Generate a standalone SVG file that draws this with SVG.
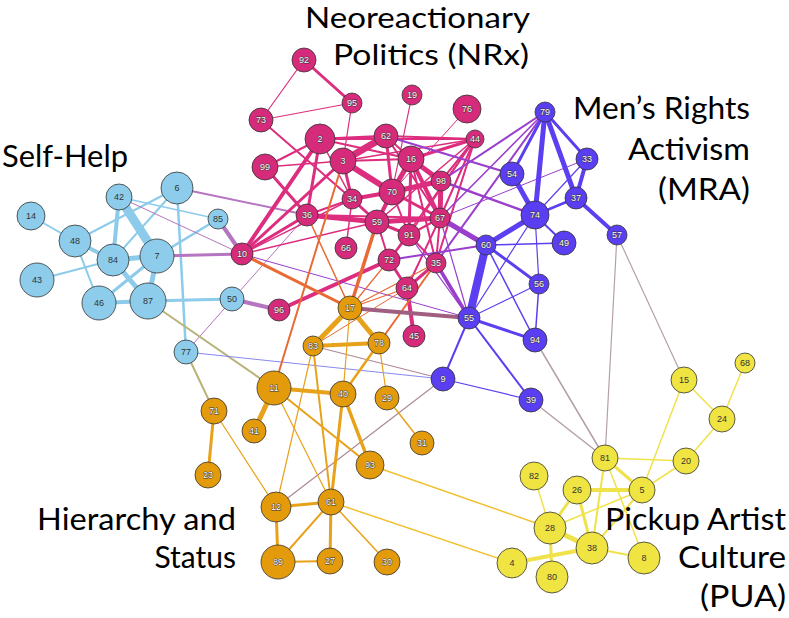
<svg xmlns="http://www.w3.org/2000/svg" width="789" height="618" viewBox="0 0 789 618">
<style>
.e line{stroke-linecap:round;fill:none}
.sh{stroke:#8ccbea}.nr{stroke:#dc2d7e}.hs{stroke:#e8a21a}.mr{stroke:#5c3ff0}.pu{stroke:#f0e24a}
.nm{stroke:#9a3fcc}.ns{stroke:#b575c0}.sm{stroke:#8888f0}.nh{stroke:#e86a35}.hm{stroke:#b08898}
.mp{stroke:#b5a0aa}.shh{stroke:#b8b47a}.hp{stroke:#f0c030}.km{stroke:#a05f80}
circle{stroke:#333;stroke-width:0.8}
.csh{fill:#8dcdeb}.cnr{fill:#d62a7a}.chs{fill:#e39b0b}.cmr{fill:#5a3ef2}.cpu{fill:#f0e443}
.n text{font-family:"Liberation Sans",Arial,sans-serif;font-size:9px;text-anchor:middle;dominant-baseline:central}
.dk text{fill:#333}
.lt text{fill:#fff;stroke:#333;stroke-width:0.9;paint-order:stroke}
.h{font-family:Lato,"Liberation Sans",sans-serif;font-size:30px;fill:#000}
.h2{font-size:28px}
</style>
<g id="connectors" class="e">
<line class="sh" x1="31" y1="216" x2="75" y2="241" stroke-width="2"/>
<line class="sh" x1="75" y1="241" x2="177" y2="188" stroke-width="2"/>
<line class="sh" x1="75" y1="241" x2="113" y2="260" stroke-width="4"/>
<line class="sh" x1="75" y1="241" x2="99" y2="303" stroke-width="2"/>
<line class="sh" x1="119" y1="197" x2="113" y2="260" stroke-width="4"/>
<line class="sh" x1="119" y1="197" x2="157" y2="256" stroke-width="9"/>
<line class="sh" x1="119" y1="197" x2="218" y2="219" stroke-width="1.5"/>
<line class="sh" x1="177" y1="188" x2="113" y2="260" stroke-width="2"/>
<line class="sh" x1="177" y1="188" x2="186" y2="352" stroke-width="2.5"/>
<line class="sh" x1="113" y1="260" x2="157" y2="256" stroke-width="5"/>
<line class="sh" x1="113" y1="260" x2="37" y2="280" stroke-width="2"/>
<line class="sh" x1="113" y1="260" x2="148" y2="301" stroke-width="5"/>
<line class="sh" x1="157" y1="256" x2="148" y2="301" stroke-width="5"/>
<line class="sh" x1="157" y1="256" x2="99" y2="303" stroke-width="3"/>
<line class="sh" x1="99" y1="303" x2="148" y2="301" stroke-width="4"/>
<line class="sh" x1="157" y1="256" x2="218" y2="219" stroke-width="2.5"/>
<line class="sh" x1="148" y1="301" x2="232" y2="299" stroke-width="3"/>
<line class="ns" x1="119" y1="197" x2="242" y2="254" stroke-width="1"/>
<line class="ns" x1="177" y1="188" x2="307" y2="215" stroke-width="2"/>
<line class="ns" x1="157" y1="256" x2="242" y2="254" stroke-width="3"/>
<line class="ns" x1="218" y1="219" x2="242" y2="254" stroke-width="4"/>
<line class="ns" x1="232" y1="299" x2="279" y2="310" stroke-width="4"/>
<line class="ns" x1="186" y1="352" x2="307" y2="215" stroke-width="1"/>
<line class="shh" x1="148" y1="301" x2="274" y2="388" stroke-width="2"/>
<line class="shh" x1="186" y1="352" x2="214" y2="411" stroke-width="2"/>
<line class="sm" x1="186" y1="352" x2="443" y2="379" stroke-width="1"/>
<line class="nr" x1="304" y1="60" x2="261" y2="120" stroke-width="1.2"/>
<line class="nr" x1="304" y1="60" x2="352" y2="103" stroke-width="3"/>
<line class="nr" x1="352" y1="103" x2="261" y2="120" stroke-width="1.2"/>
<line class="nr" x1="352" y1="103" x2="343" y2="161" stroke-width="1.2"/>
<line class="nr" x1="261" y1="120" x2="352" y2="199" stroke-width="2"/>
<line class="nr" x1="412" y1="95" x2="392" y2="192" stroke-width="1.2"/>
<line class="nr" x1="467" y1="109" x2="392" y2="192" stroke-width="1"/>
<line class="nr" x1="320" y1="139" x2="265" y2="167" stroke-width="2"/>
<line class="nr" x1="265" y1="167" x2="343" y2="161" stroke-width="1.5"/>
<line class="nr" x1="265" y1="167" x2="307" y2="215" stroke-width="3"/>
<line class="nr" x1="320" y1="139" x2="386" y2="136" stroke-width="2.5"/>
<line class="nr" x1="320" y1="139" x2="475" y2="139" stroke-width="2"/>
<line class="nr" x1="386" y1="136" x2="475" y2="139" stroke-width="2"/>
<line class="nr" x1="320" y1="139" x2="411" y2="159" stroke-width="2"/>
<line class="nr" x1="343" y1="161" x2="411" y2="159" stroke-width="2"/>
<line class="nr" x1="343" y1="161" x2="475" y2="139" stroke-width="1.5"/>
<line class="nr" x1="411" y1="159" x2="475" y2="139" stroke-width="3"/>
<line class="nr" x1="386" y1="136" x2="343" y2="161" stroke-width="7"/>
<line class="nr" x1="386" y1="136" x2="411" y2="159" stroke-width="2"/>
<line class="nr" x1="386" y1="136" x2="392" y2="192" stroke-width="3"/>
<line class="nr" x1="386" y1="136" x2="440" y2="218" stroke-width="2"/>
<line class="nr" x1="343" y1="161" x2="392" y2="192" stroke-width="6"/>
<line class="nr" x1="343" y1="161" x2="352" y2="199" stroke-width="3"/>
<line class="nr" x1="320" y1="139" x2="307" y2="215" stroke-width="3"/>
<line class="nr" x1="320" y1="139" x2="242" y2="254" stroke-width="4"/>
<line class="nr" x1="343" y1="161" x2="242" y2="254" stroke-width="3"/>
<line class="nr" x1="307" y1="215" x2="242" y2="254" stroke-width="3"/>
<line class="nr" x1="352" y1="199" x2="242" y2="254" stroke-width="1.5"/>
<line class="nr" x1="377" y1="222" x2="242" y2="254" stroke-width="1.5"/>
<line class="nr" x1="320" y1="139" x2="352" y2="199" stroke-width="1.5"/>
<line class="nr" x1="411" y1="159" x2="392" y2="192" stroke-width="5"/>
<line class="nr" x1="411" y1="159" x2="441" y2="181" stroke-width="5"/>
<line class="nr" x1="411" y1="159" x2="440" y2="218" stroke-width="4"/>
<line class="nr" x1="411" y1="159" x2="409" y2="235" stroke-width="3"/>
<line class="nr" x1="411" y1="159" x2="436" y2="263" stroke-width="2"/>
<line class="nr" x1="392" y1="192" x2="441" y2="181" stroke-width="5"/>
<line class="nr" x1="441" y1="181" x2="440" y2="218" stroke-width="5"/>
<line class="nr" x1="392" y1="192" x2="377" y2="222" stroke-width="4"/>
<line class="nr" x1="352" y1="199" x2="392" y2="192" stroke-width="4"/>
<line class="nr" x1="352" y1="199" x2="377" y2="222" stroke-width="3"/>
<line class="nr" x1="307" y1="215" x2="377" y2="222" stroke-width="5"/>
<line class="nr" x1="377" y1="222" x2="440" y2="218" stroke-width="5"/>
<line class="nr" x1="307" y1="215" x2="440" y2="218" stroke-width="2"/>
<line class="nr" x1="307" y1="215" x2="352" y2="199" stroke-width="2"/>
<line class="nr" x1="475" y1="139" x2="441" y2="181" stroke-width="2"/>
<line class="nr" x1="475" y1="139" x2="440" y2="218" stroke-width="2"/>
<line class="nr" x1="475" y1="139" x2="377" y2="222" stroke-width="1.5"/>
<line class="nr" x1="475" y1="139" x2="409" y2="235" stroke-width="1.5"/>
<line class="nr" x1="475" y1="139" x2="436" y2="263" stroke-width="2"/>
<line class="nr" x1="475" y1="139" x2="389" y2="260" stroke-width="1.5"/>
<line class="nr" x1="352" y1="199" x2="346" y2="248" stroke-width="1.5"/>
<line class="nr" x1="377" y1="222" x2="409" y2="235" stroke-width="3"/>
<line class="nr" x1="377" y1="222" x2="389" y2="260" stroke-width="2"/>
<line class="nr" x1="409" y1="235" x2="389" y2="260" stroke-width="2"/>
<line class="nr" x1="409" y1="235" x2="436" y2="263" stroke-width="2"/>
<line class="nr" x1="409" y1="235" x2="440" y2="218" stroke-width="2"/>
<line class="nr" x1="389" y1="260" x2="407" y2="288" stroke-width="3"/>
<line class="nr" x1="407" y1="288" x2="436" y2="263" stroke-width="3"/>
<line class="nr" x1="407" y1="288" x2="414" y2="336" stroke-width="4"/>
<line class="nr" x1="407" y1="288" x2="440" y2="218" stroke-width="2"/>
<line class="nr" x1="436" y1="263" x2="440" y2="218" stroke-width="2"/>
<line class="nr" x1="389" y1="260" x2="279" y2="310" stroke-width="4"/>
<line class="nr" x1="392" y1="192" x2="409" y2="235" stroke-width="2"/>
<line class="nr" x1="392" y1="192" x2="440" y2="218" stroke-width="3"/>
<line class="nm" x1="386" y1="136" x2="512" y2="174" stroke-width="2"/>
<line class="nm" x1="441" y1="181" x2="535" y2="215" stroke-width="2.5"/>
<line class="nm" x1="545" y1="112" x2="441" y2="181" stroke-width="2"/>
<line class="nm" x1="545" y1="112" x2="440" y2="218" stroke-width="1.5"/>
<line class="nm" x1="545" y1="112" x2="436" y2="263" stroke-width="2"/>
<line class="nm" x1="587" y1="159" x2="440" y2="218" stroke-width="1"/>
<line class="nm" x1="440" y1="218" x2="486" y2="245" stroke-width="5"/>
<line class="nm" x1="436" y1="263" x2="469" y2="318" stroke-width="3.5"/>
<line class="nm" x1="389" y1="260" x2="486" y2="245" stroke-width="2"/>
<line class="nm" x1="440" y1="218" x2="469" y2="318" stroke-width="1.2"/>
<line class="nm" x1="409" y1="235" x2="469" y2="318" stroke-width="1.2"/>
<line class="nm" x1="242" y1="254" x2="469" y2="318" stroke-width="1"/>
<line class="nh" x1="343" y1="161" x2="274" y2="388" stroke-width="2"/>
<line class="nh" x1="307" y1="215" x2="350" y2="308" stroke-width="1.5"/>
<line class="nh" x1="242" y1="254" x2="350" y2="308" stroke-width="3"/>
<line class="nh" x1="377" y1="222" x2="350" y2="308" stroke-width="3.5"/>
<line class="nh" x1="350" y1="308" x2="407" y2="288" stroke-width="1.2"/>
<line class="nh" x1="350" y1="308" x2="389" y2="260" stroke-width="1.2"/>
<line class="nh" x1="350" y1="308" x2="436" y2="263" stroke-width="1.2"/>
<line class="nh" x1="313" y1="346" x2="407" y2="288" stroke-width="1"/>
<line class="nh" x1="379" y1="343" x2="436" y2="263" stroke-width="2"/>
<line class="km" x1="350" y1="308" x2="469" y2="318" stroke-width="4"/>
<line class="hm" x1="313" y1="346" x2="443" y2="379" stroke-width="1.2"/>
<line class="hm" x1="443" y1="379" x2="276" y2="507" stroke-width="1.2"/>
<line class="mp" x1="617" y1="235" x2="684" y2="380" stroke-width="1.2"/>
<line class="mp" x1="617" y1="235" x2="605" y2="458" stroke-width="1.2"/>
<line class="mp" x1="535" y1="340" x2="605" y2="458" stroke-width="1.5"/>
<line class="mp" x1="531" y1="400" x2="605" y2="458" stroke-width="1.5"/>
<line class="hp" x1="370" y1="465" x2="550" y2="528" stroke-width="1.5"/>
<line class="hp" x1="331" y1="502" x2="512" y2="563" stroke-width="1.5"/>
<line class="mr" x1="545" y1="112" x2="512" y2="174" stroke-width="3"/>
<line class="mr" x1="545" y1="112" x2="535" y2="215" stroke-width="5"/>
<line class="mr" x1="545" y1="112" x2="576" y2="198" stroke-width="5"/>
<line class="mr" x1="545" y1="112" x2="587" y2="159" stroke-width="3"/>
<line class="mr" x1="587" y1="159" x2="576" y2="198" stroke-width="4"/>
<line class="mr" x1="587" y1="159" x2="535" y2="215" stroke-width="1.2"/>
<line class="mr" x1="576" y1="198" x2="535" y2="215" stroke-width="2.5"/>
<line class="mr" x1="576" y1="198" x2="617" y2="235" stroke-width="4"/>
<line class="mr" x1="512" y1="174" x2="535" y2="215" stroke-width="5"/>
<line class="mr" x1="535" y1="215" x2="486" y2="245" stroke-width="5"/>
<line class="mr" x1="535" y1="215" x2="564" y2="243" stroke-width="2"/>
<line class="mr" x1="535" y1="215" x2="539" y2="284" stroke-width="1.2"/>
<line class="mr" x1="535" y1="215" x2="469" y2="318" stroke-width="1.2"/>
<line class="mr" x1="486" y1="245" x2="564" y2="243" stroke-width="1.5"/>
<line class="mr" x1="486" y1="245" x2="539" y2="284" stroke-width="3"/>
<line class="mr" x1="486" y1="245" x2="469" y2="318" stroke-width="8"/>
<line class="mr" x1="486" y1="245" x2="535" y2="340" stroke-width="1.5"/>
<line class="mr" x1="539" y1="284" x2="469" y2="318" stroke-width="1.2"/>
<line class="mr" x1="539" y1="284" x2="535" y2="340" stroke-width="1.5"/>
<line class="mr" x1="469" y1="318" x2="535" y2="340" stroke-width="3"/>
<line class="mr" x1="469" y1="318" x2="443" y2="379" stroke-width="2"/>
<line class="mr" x1="469" y1="318" x2="531" y2="400" stroke-width="2"/>
<line class="mr" x1="443" y1="379" x2="531" y2="400" stroke-width="1.2"/>
<line class="hs" x1="350" y1="308" x2="313" y2="346" stroke-width="5"/>
<line class="hs" x1="350" y1="308" x2="379" y2="343" stroke-width="5"/>
<line class="hs" x1="313" y1="346" x2="379" y2="343" stroke-width="4"/>
<line class="hs" x1="350" y1="308" x2="343" y2="394" stroke-width="1.2"/>
<line class="hs" x1="379" y1="343" x2="343" y2="394" stroke-width="2.5"/>
<line class="hs" x1="379" y1="343" x2="387" y2="398" stroke-width="1.2"/>
<line class="hs" x1="313" y1="346" x2="276" y2="507" stroke-width="1.2"/>
<line class="hs" x1="313" y1="346" x2="331" y2="502" stroke-width="2"/>
<line class="hs" x1="274" y1="388" x2="343" y2="394" stroke-width="4"/>
<line class="hs" x1="274" y1="388" x2="254" y2="431" stroke-width="5"/>
<line class="hs" x1="274" y1="388" x2="370" y2="465" stroke-width="2"/>
<line class="hs" x1="274" y1="388" x2="331" y2="502" stroke-width="1.2"/>
<line class="hs" x1="343" y1="394" x2="370" y2="465" stroke-width="3.5"/>
<line class="hs" x1="343" y1="394" x2="331" y2="502" stroke-width="3"/>
<line class="hs" x1="387" y1="398" x2="422" y2="443" stroke-width="1.5"/>
<line class="hs" x1="214" y1="411" x2="208" y2="475" stroke-width="3"/>
<line class="hs" x1="214" y1="411" x2="276" y2="507" stroke-width="1.2"/>
<line class="hs" x1="276" y1="507" x2="331" y2="502" stroke-width="3"/>
<line class="hs" x1="276" y1="507" x2="278" y2="562" stroke-width="3"/>
<line class="hs" x1="331" y1="502" x2="278" y2="562" stroke-width="2"/>
<line class="hs" x1="331" y1="502" x2="330" y2="561" stroke-width="3"/>
<line class="hs" x1="278" y1="562" x2="330" y2="561" stroke-width="2"/>
<line class="hs" x1="331" y1="502" x2="387" y2="562" stroke-width="1.5"/>
<line class="pu" x1="684" y1="380" x2="722" y2="419" stroke-width="1.5"/>
<line class="pu" x1="745" y1="363" x2="722" y2="419" stroke-width="1.5"/>
<line class="pu" x1="722" y1="419" x2="686" y2="461" stroke-width="1.5"/>
<line class="pu" x1="684" y1="380" x2="642" y2="490" stroke-width="1.5"/>
<line class="pu" x1="605" y1="458" x2="686" y2="461" stroke-width="1.5"/>
<line class="pu" x1="605" y1="458" x2="642" y2="490" stroke-width="3"/>
<line class="pu" x1="686" y1="461" x2="642" y2="490" stroke-width="1.5"/>
<line class="pu" x1="605" y1="458" x2="592" y2="548" stroke-width="2"/>
<line class="pu" x1="605" y1="458" x2="644" y2="558" stroke-width="1.5"/>
<line class="pu" x1="534" y1="476" x2="550" y2="528" stroke-width="1.5"/>
<line class="pu" x1="577" y1="490" x2="642" y2="490" stroke-width="4"/>
<line class="pu" x1="577" y1="490" x2="550" y2="528" stroke-width="3"/>
<line class="pu" x1="577" y1="490" x2="592" y2="548" stroke-width="3"/>
<line class="pu" x1="550" y1="528" x2="642" y2="490" stroke-width="1.5"/>
<line class="pu" x1="550" y1="528" x2="592" y2="548" stroke-width="5"/>
<line class="pu" x1="550" y1="528" x2="552" y2="577" stroke-width="3"/>
<line class="pu" x1="512" y1="563" x2="592" y2="548" stroke-width="4"/>
<line class="pu" x1="592" y1="548" x2="644" y2="558" stroke-width="2"/>
<line class="pu" x1="642" y1="490" x2="592" y2="548" stroke-width="2"/>
</g>
<g id="nodes">
<g id="n6" class="n dk"><circle class="csh" cx="177" cy="188" r="16"/><text x="177" y="188">6</text></g>
<g id="n42" class="n dk"><circle class="csh" cx="119" cy="197" r="13"/><text x="119" y="197">42</text></g>
<g id="n14" class="n dk"><circle class="csh" cx="31" cy="216" r="14"/><text x="31" y="216">14</text></g>
<g id="n48" class="n dk"><circle class="csh" cx="75" cy="241" r="16"/><text x="75" y="241">48</text></g>
<g id="n85" class="n dk"><circle class="csh" cx="218" cy="219" r="10"/><text x="218" y="219">85</text></g>
<g id="n84" class="n dk"><circle class="csh" cx="113" cy="260" r="16"/><text x="113" y="260">84</text></g>
<g id="n7" class="n dk"><circle class="csh" cx="157" cy="256" r="17"/><text x="157" y="256">7</text></g>
<g id="n43" class="n dk"><circle class="csh" cx="37" cy="280" r="17"/><text x="37" y="280">43</text></g>
<g id="n46" class="n dk"><circle class="csh" cx="99" cy="303" r="17"/><text x="99" y="303">46</text></g>
<g id="n87" class="n dk"><circle class="csh" cx="148" cy="301" r="18"/><text x="148" y="301">87</text></g>
<g id="n50" class="n dk"><circle class="csh" cx="232" cy="299" r="12"/><text x="232" y="299">50</text></g>
<g id="n77" class="n dk"><circle class="csh" cx="186" cy="352" r="12"/><text x="186" y="352">77</text></g>
<g id="n92" class="n lt"><circle class="cnr" cx="304" cy="60" r="12"/><text x="304" y="60">92</text></g>
<g id="n95" class="n lt"><circle class="cnr" cx="352" cy="103" r="10"/><text x="352" y="103">95</text></g>
<g id="n19" class="n lt"><circle class="cnr" cx="412" cy="95" r="10"/><text x="412" y="95">19</text></g>
<g id="n76" class="n lt"><circle class="cnr" cx="467" cy="109" r="14"/><text x="467" y="109">76</text></g>
<g id="n73" class="n lt"><circle class="cnr" cx="261" cy="120" r="12"/><text x="261" y="120">73</text></g>
<g id="n2" class="n lt"><circle class="cnr" cx="320" cy="139" r="15"/><text x="320" y="139">2</text></g>
<g id="n62" class="n lt"><circle class="cnr" cx="386" cy="136" r="12"/><text x="386" y="136">62</text></g>
<g id="n44" class="n lt"><circle class="cnr" cx="475" cy="139" r="9"/><text x="475" y="139">44</text></g>
<g id="n99" class="n lt"><circle class="cnr" cx="265" cy="167" r="13"/><text x="265" y="167">99</text></g>
<g id="n3" class="n lt"><circle class="cnr" cx="343" cy="161" r="13"/><text x="343" y="161">3</text></g>
<g id="n16" class="n lt"><circle class="cnr" cx="411" cy="159" r="13"/><text x="411" y="159">16</text></g>
<g id="n98" class="n lt"><circle class="cnr" cx="441" cy="181" r="10"/><text x="441" y="181">98</text></g>
<g id="n70" class="n lt"><circle class="cnr" cx="392" cy="192" r="13"/><text x="392" y="192">70</text></g>
<g id="n34" class="n lt"><circle class="cnr" cx="352" cy="199" r="10"/><text x="352" y="199">34</text></g>
<g id="n36" class="n lt"><circle class="cnr" cx="307" cy="215" r="11"/><text x="307" y="215">36</text></g>
<g id="n59" class="n lt"><circle class="cnr" cx="377" cy="222" r="12"/><text x="377" y="222">59</text></g>
<g id="n67" class="n lt"><circle class="cnr" cx="440" cy="218" r="10"/><text x="440" y="218">67</text></g>
<g id="n91" class="n lt"><circle class="cnr" cx="409" cy="235" r="11"/><text x="409" y="235">91</text></g>
<g id="n66" class="n lt"><circle class="cnr" cx="346" cy="248" r="11"/><text x="346" y="248">66</text></g>
<g id="n72" class="n lt"><circle class="cnr" cx="389" cy="260" r="11"/><text x="389" y="260">72</text></g>
<g id="n35" class="n lt"><circle class="cnr" cx="436" cy="263" r="10"/><text x="436" y="263">35</text></g>
<g id="n64" class="n lt"><circle class="cnr" cx="407" cy="288" r="11"/><text x="407" y="288">64</text></g>
<g id="n45" class="n lt"><circle class="cnr" cx="414" cy="336" r="11"/><text x="414" y="336">45</text></g>
<g id="n10" class="n lt"><circle class="cnr" cx="242" cy="254" r="11"/><text x="242" y="254">10</text></g>
<g id="n96" class="n lt"><circle class="cnr" cx="279" cy="310" r="11"/><text x="279" y="310">96</text></g>
<g id="n17" class="n lt"><circle class="chs" cx="350" cy="308" r="12"/><text x="350" y="308">17</text></g>
<g id="n83" class="n lt"><circle class="chs" cx="313" cy="346" r="10"/><text x="313" y="346">83</text></g>
<g id="n78" class="n lt"><circle class="chs" cx="379" cy="343" r="11"/><text x="379" y="343">78</text></g>
<g id="n11" class="n lt"><circle class="chs" cx="274" cy="388" r="17"/><text x="274" y="388">11</text></g>
<g id="n40" class="n lt"><circle class="chs" cx="343" cy="394" r="13"/><text x="343" y="394">40</text></g>
<g id="n29" class="n lt"><circle class="chs" cx="387" cy="398" r="12"/><text x="387" y="398">29</text></g>
<g id="n71" class="n lt"><circle class="chs" cx="214" cy="411" r="13"/><text x="214" y="411">71</text></g>
<g id="n41" class="n lt"><circle class="chs" cx="254" cy="431" r="12"/><text x="254" y="431">41</text></g>
<g id="n31" class="n lt"><circle class="chs" cx="422" cy="443" r="12"/><text x="422" y="443">31</text></g>
<g id="n93" class="n lt"><circle class="chs" cx="370" cy="465" r="14"/><text x="370" y="465">93</text></g>
<g id="n23" class="n lt"><circle class="chs" cx="208" cy="475" r="13"/><text x="208" y="475">23</text></g>
<g id="n12" class="n lt"><circle class="chs" cx="276" cy="507" r="15"/><text x="276" y="507">12</text></g>
<g id="n61" class="n lt"><circle class="chs" cx="331" cy="502" r="13"/><text x="331" y="502">61</text></g>
<g id="n89" class="n lt"><circle class="chs" cx="278" cy="562" r="17"/><text x="278" y="562">89</text></g>
<g id="n27" class="n lt"><circle class="chs" cx="330" cy="561" r="13"/><text x="330" y="561">27</text></g>
<g id="n30" class="n lt"><circle class="chs" cx="387" cy="562" r="13"/><text x="387" y="562">30</text></g>
<g id="n79" class="n lt"><circle class="cmr" cx="545" cy="112" r="10"/><text x="545" y="112">79</text></g>
<g id="n33" class="n lt"><circle class="cmr" cx="587" cy="159" r="11"/><text x="587" y="159">33</text></g>
<g id="n54" class="n lt"><circle class="cmr" cx="512" cy="174" r="12"/><text x="512" y="174">54</text></g>
<g id="n37" class="n lt"><circle class="cmr" cx="576" cy="198" r="11"/><text x="576" y="198">37</text></g>
<g id="n74" class="n lt"><circle class="cmr" cx="535" cy="215" r="14"/><text x="535" y="215">74</text></g>
<g id="n57" class="n lt"><circle class="cmr" cx="617" cy="235" r="10"/><text x="617" y="235">57</text></g>
<g id="n60" class="n lt"><circle class="cmr" cx="486" cy="245" r="10"/><text x="486" y="245">60</text></g>
<g id="n49" class="n lt"><circle class="cmr" cx="564" cy="243" r="12"/><text x="564" y="243">49</text></g>
<g id="n56" class="n lt"><circle class="cmr" cx="539" cy="284" r="10"/><text x="539" y="284">56</text></g>
<g id="n55" class="n lt"><circle class="cmr" cx="469" cy="318" r="11"/><text x="469" y="318">55</text></g>
<g id="n94" class="n lt"><circle class="cmr" cx="535" cy="340" r="12"/><text x="535" y="340">94</text></g>
<g id="n9" class="n lt"><circle class="cmr" cx="443" cy="379" r="12"/><text x="443" y="379">9</text></g>
<g id="n39" class="n lt"><circle class="cmr" cx="531" cy="400" r="12"/><text x="531" y="400">39</text></g>
<g id="n68" class="n dk"><circle class="cpu" cx="745" cy="363" r="10"/><text x="745" y="363">68</text></g>
<g id="n15" class="n dk"><circle class="cpu" cx="684" cy="380" r="13"/><text x="684" y="380">15</text></g>
<g id="n24" class="n dk"><circle class="cpu" cx="722" cy="419" r="13"/><text x="722" y="419">24</text></g>
<g id="n81" class="n dk"><circle class="cpu" cx="605" cy="458" r="13"/><text x="605" y="458">81</text></g>
<g id="n20" class="n dk"><circle class="cpu" cx="686" cy="461" r="13"/><text x="686" y="461">20</text></g>
<g id="n82" class="n dk"><circle class="cpu" cx="534" cy="476" r="14"/><text x="534" y="476">82</text></g>
<g id="n26" class="n dk"><circle class="cpu" cx="577" cy="490" r="14"/><text x="577" y="490">26</text></g>
<g id="n5" class="n dk"><circle class="cpu" cx="642" cy="490" r="13"/><text x="642" y="490">5</text></g>
<g id="n28" class="n dk"><circle class="cpu" cx="550" cy="528" r="16"/><text x="550" y="528">28</text></g>
<g id="n38" class="n dk"><circle class="cpu" cx="592" cy="548" r="16"/><text x="592" y="548">38</text></g>
<g id="n8" class="n dk"><circle class="cpu" cx="644" cy="558" r="16"/><text x="644" y="558">8</text></g>
<g id="n4" class="n dk"><circle class="cpu" cx="512" cy="563" r="15"/><text x="512" y="563">4</text></g>
<g id="n80" class="n dk"><circle class="cpu" cx="552" cy="577" r="16"/><text x="552" y="577">80</text></g>
</g>
<g id="labels">
<text class="h h2" x="305" y="28" textLength="225" lengthAdjust="spacingAndGlyphs">Neoreactionary</text>
<text class="h h2" x="333" y="65" textLength="196" lengthAdjust="spacingAndGlyphs">Politics (NRx)</text>
<text class="h" x="573" y="119" textLength="177" lengthAdjust="spacingAndGlyphs">Men’s Rights</text>
<text class="h" x="628" y="160" textLength="122" lengthAdjust="spacingAndGlyphs">Activism</text>
<text class="h" x="658" y="200" textLength="92" lengthAdjust="spacingAndGlyphs">(MRA)</text>
<text class="h" x="2" y="167" textLength="126" lengthAdjust="spacingAndGlyphs">Self-Help</text>
<text class="h" x="37" y="530" textLength="199" lengthAdjust="spacingAndGlyphs">Hierarchy and</text>
<text class="h" x="236" y="568" text-anchor="end">Status</text>
<text class="h" x="605" y="530" textLength="181" lengthAdjust="spacingAndGlyphs">Pickup Artist</text>
<text class="h" x="678" y="568" textLength="108" lengthAdjust="spacingAndGlyphs">Culture</text>
<text class="h" x="700" y="607" textLength="86" lengthAdjust="spacingAndGlyphs">(PUA)</text>
</g>
</svg>
